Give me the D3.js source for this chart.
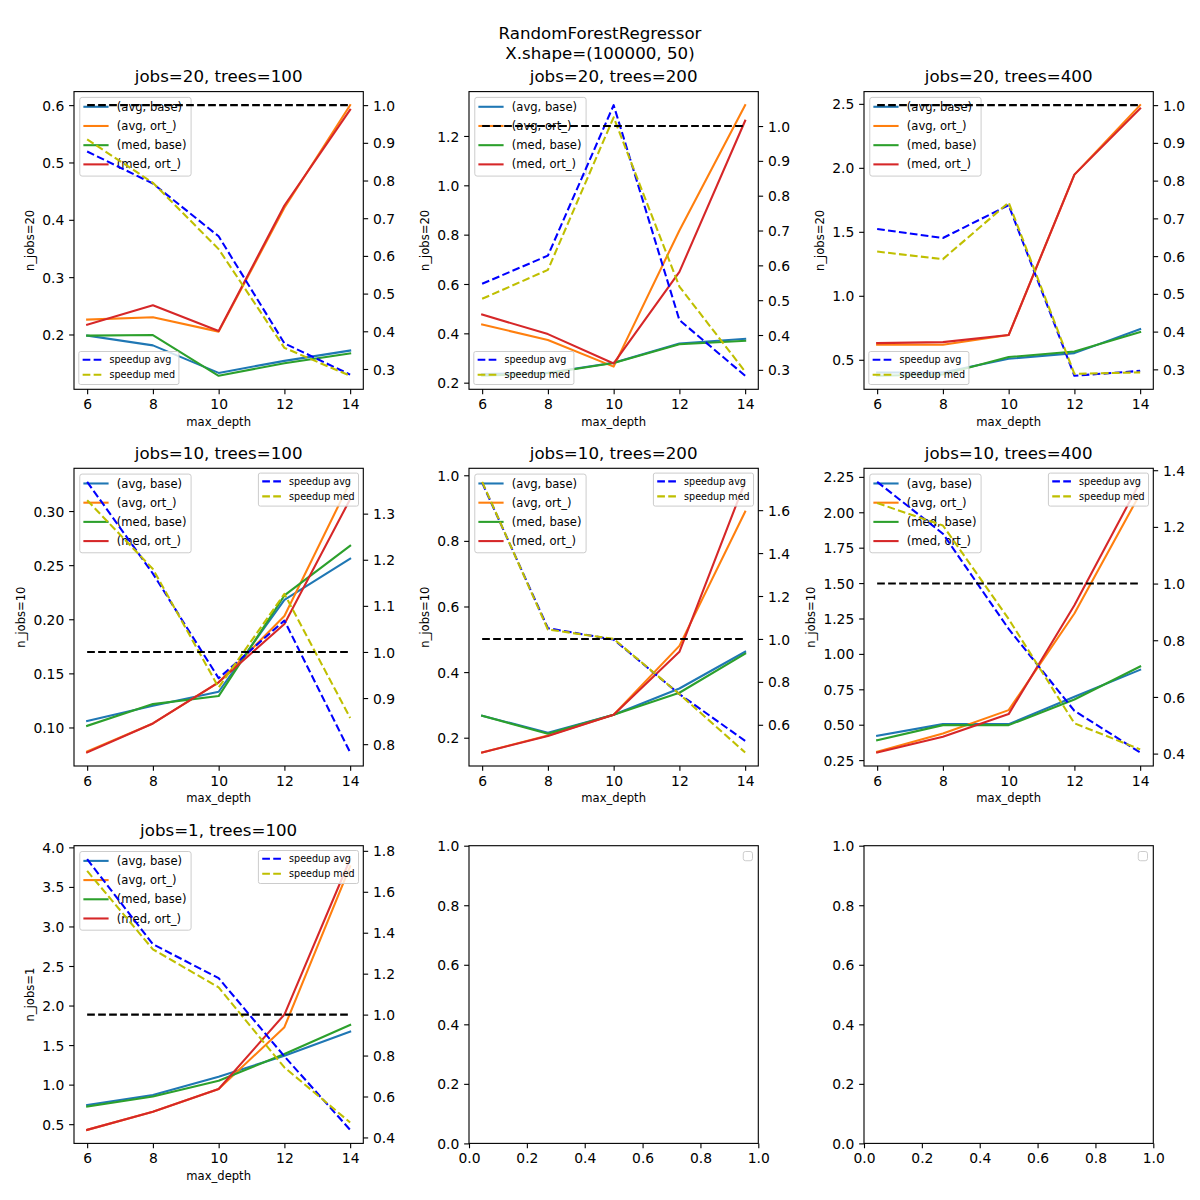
<!DOCTYPE html>
<html><head><meta charset="utf-8">
<script src="https://cdn.jsdelivr.net/npm/d3@7"></script>
<style>
body{margin:0;background:#fff}
svg{display:block}
text{font-family:"DejaVu Sans",sans-serif;fill:#000}
</style>
</head><body>
<svg id="chart" width="1200" height="1200"></svg>
<script>
// ---------------- data ----------------
const depths = [6, 8, 10, 12, 14];
const xTickLabels = ["6", "8", "10", "12", "14"];
const xAxisLabel = "max_depth";
const suptitleLines = ["RandomForestRegressor", "X.shape=(100000, 50)"];
const seriesNames = ["(avg, base)", "(avg, ort_)", "(med, base)", "(med, ort_)"];
const speedupNames = ["speedup avg", "speedup med"];
const speedupReference = 1.0;
const emptyTickLabels = ["0.0", "0.2", "0.4", "0.6", "0.8", "1.0"];

const panelTitles = ["jobs=20, trees=100", "jobs=20, trees=200", "jobs=20, trees=400",
                     "jobs=10, trees=100", "jobs=10, trees=200", "jobs=10, trees=400",
                     "jobs=1, trees=100"];
const panelYLabels = ["n_jobs=20", "n_jobs=20", "n_jobs=20",
                      "n_jobs=10", "n_jobs=10", "n_jobs=10", "n_jobs=1"];

// timings: rows = (avg, base), (avg, ort_), (med, base), (med, ort_)
const timesJ20T100 = [
  [0.198, 0.181, 0.133, 0.154, 0.172],
  [0.226, 0.230, 0.205, 0.421, 0.600],
  [0.198, 0.199, 0.128, 0.150, 0.167],
  [0.217, 0.251, 0.206, 0.425, 0.592]];
const timesJ20T200 = [
  [0.235, 0.240, 0.281, 0.359, 0.378],
  [0.436, 0.373, 0.265, 0.817, 1.325],
  [0.228, 0.238, 0.280, 0.356, 0.370],
  [0.476, 0.397, 0.278, 0.649, 1.262]];
const timesJ20T400 = [
  [0.400, 0.400, 0.508, 0.552, 0.740],
  [0.617, 0.617, 0.693, 1.947, 2.490],
  [0.375, 0.385, 0.521, 0.565, 0.716],
  [0.630, 0.638, 0.693, 1.947, 2.463]];
const timesJ10T100 = [
  [0.106, 0.120, 0.133, 0.218, 0.256],
  [0.0778, 0.1037, 0.1417, 0.203, 0.327],
  [0.1015, 0.1216, 0.129, 0.222, 0.268],
  [0.0769, 0.1037, 0.1417, 0.1957, 0.311]];
const timesJ10T200 = [
  [0.267, 0.215, 0.270, 0.350, 0.462],
  [0.155, 0.207, 0.270, 0.480, 0.889],
  [0.267, 0.212, 0.270, 0.337, 0.456],
  [0.155, 0.205, 0.270, 0.462, 0.980]];
const timesJ10T400 = [
  [0.422, 0.504, 0.504, 0.697, 0.888],
  [0.309, 0.438, 0.603, 1.285, 2.132],
  [0.391, 0.497, 0.497, 0.678, 0.911],
  [0.304, 0.415, 0.575, 1.344, 2.215]];
const timesJ1T100 = [
  [0.741, 0.868, 1.100, 1.366, 1.671],
  [0.428, 0.656, 0.944, 1.726, 3.760],
  [0.724, 0.851, 1.049, 1.388, 1.755],
  [0.428, 0.656, 0.944, 1.886, 3.850]];

// speedups: rows = speedup avg, speedup med
const speedJ20T100 = [[0.877, 0.792, 0.652, 0.368, 0.285], [0.909, 0.794, 0.618, 0.356, 0.282]];
const speedJ20T200 = [[0.547, 0.628, 1.060, 0.443, 0.283], [0.504, 0.587, 1.025, 0.539, 0.295]];
const speedJ20T400 = [[0.672, 0.648, 0.735, 0.283, 0.296], [0.612, 0.592, 0.742, 0.288, 0.292]];
const speedJ10T100 = [[1.369, 1.170, 0.943, 1.068, 0.782], [1.329, 1.180, 0.923, 1.126, 0.857]];
const speedJ10T200 = [[1.728, 1.050, 0.997, 0.743, 0.525], [1.732, 1.044, 1.000, 0.743, 0.471]];
const speedJ10T400 = [[1.359, 1.176, 0.840, 0.551, 0.404], [1.284, 1.205, 0.875, 0.507, 0.415]];
const speedJ1T100  = [[1.759, 1.344, 1.178, 0.796, 0.437], [1.702, 1.319, 1.133, 0.742, 0.473]];

// tick labels
const leftTicksJ20T100 = ["0.2", "0.3", "0.4", "0.5", "0.6"];
const leftTicksJ20T200 = ["0.2", "0.4", "0.6", "0.8", "1.0", "1.2"];
const leftTicksJ20T400 = ["0.5", "1.0", "1.5", "2.0", "2.5"];
const leftTicksJ10T100 = ["0.10", "0.15", "0.20", "0.25", "0.30"];
const leftTicksJ10T200 = ["0.2", "0.4", "0.6", "0.8", "1.0"];
const leftTicksJ10T400 = ["0.25", "0.50", "0.75", "1.00", "1.25", "1.50", "1.75", "2.00", "2.25"];
const leftTicksJ1T100  = ["0.5", "1.0", "1.5", "2.0", "2.5", "3.0", "3.5", "4.0"];
const rightTicksJ20 = ["0.3", "0.4", "0.5", "0.6", "0.7", "0.8", "0.9", "1.0"];
const rightTicksJ10T100 = ["0.8", "0.9", "1.0", "1.1", "1.2", "1.3"];
const rightTicksJ10T200 = ["0.6", "0.8", "1.0", "1.2", "1.4", "1.6"];
const rightTicksJ10T400 = ["0.4", "0.6", "0.8", "1.0", "1.2", "1.4"];
const rightTicksJ1T100  = ["0.4", "0.6", "0.8", "1.0", "1.2", "1.4", "1.6", "1.8"];

const panelTimes = [timesJ20T100, timesJ20T200, timesJ20T400, timesJ10T100, timesJ10T200, timesJ10T400, timesJ1T100];
const panelSpeed = [speedJ20T100, speedJ20T200, speedJ20T400, speedJ10T100, speedJ10T200, speedJ10T400, speedJ1T100];
const panelLeftTicks = [leftTicksJ20T100, leftTicksJ20T200, leftTicksJ20T400, leftTicksJ10T100, leftTicksJ10T200, leftTicksJ10T400, leftTicksJ1T100];
const panelRightTicks = [rightTicksJ20, rightTicksJ20, rightTicksJ20, rightTicksJ10T100, rightTicksJ10T200, rightTicksJ10T400, rightTicksJ1T100];

// ---------------- style / layout ----------------
const seriesColors = ["#1f77b4", "#ff7f0e", "#2ca02c", "#d62728"];
const speedColors = ["#0000ff", "#bfbf00"];
const colLefts = [74, 469, 864];
const rowTops = [91.6, 468.3, 845.7];
const W = 289.3, H = 297.7;
const FS_TICK = 13.89, FS_TITLE = 16.67, FS_LABEL = 11.57, FS_LEG = 11.57, FS_SLEG = 9.6;
const LW = 2.08, SPINE_W = 1.11, TICK_LEN = 4.86, TICK_PAD = 4.86;
const DASH = "7.7,3.3";

const svg = d3.select("#chart");

// suptitle
svg.append("text").attr("x", 600).attr("y", 39).attr("text-anchor", "middle")
  .style("font-size", FS_TITLE + "px").text(suptitleLines[0]);
svg.append("text").attr("x", 600).attr("y", 59).attr("text-anchor", "middle")
  .style("font-size", FS_TITLE + "px").text(suptitleLines[1]);

function padExtent(vals) {
  const [a, b] = d3.extent(vals);
  const r = b - a;
  return [a - 0.05 * r, b + 0.05 * r];
}

function styleAxis(sel) {
  sel.select(".domain").remove();
  sel.selectAll(".tick line").attr("stroke", "#000").attr("stroke-width", SPINE_W);
  sel.selectAll(".tick text").style("font-size", FS_TICK + "px").attr("fill", "#000")
    .style("font-family", '"DejaVu Sans",sans-serif');
}

function drawAxes(g, x, y, xLabels, yLabels) {
  const xa = g.append("g").attr("transform", `translate(0,${H})`)
    .call(d3.axisBottom(x).tickValues(xLabels.map(Number)).tickFormat((d, i) => xLabels[i])
      .tickSizeInner(TICK_LEN).tickSizeOuter(0).tickPadding(TICK_PAD));
  styleAxis(xa);
  xa.selectAll(".tick text").attr("dy", "0.71em");
  const ya = g.append("g")
    .call(d3.axisLeft(y).tickValues(yLabels.map(Number)).tickFormat((d, i) => yLabels[i])
      .tickSizeInner(TICK_LEN).tickSizeOuter(0).tickPadding(TICK_PAD));
  styleAxis(ya);
  ya.selectAll(".tick text").attr("dy", "0.365em");
  return ya;
}

function drawFrame(g) {
  g.append("rect").attr("x", 0).attr("y", 0).attr("width", W).attr("height", H)
    .attr("fill", "none").attr("stroke", "#000").attr("stroke-width", SPINE_W);
}

function drawLegend(g, items, opt) {
  const fs = opt.fs;
  const bp = 0.4 * fs, hl = 2 * fs, htp = 0.8 * fs, axPad = 0.5 * fs;
  const lg = g.append("g");
  const rect = lg.append("rect").attr("rx", 0.2 * fs).attr("ry", 0.2 * fs)
    .attr("fill", "#fff").attr("fill-opacity", 0.8)
    .attr("stroke", "#cccccc").attr("stroke-width", 1);
  let maxW = 0;
  items.forEach((it, i) => {
    const cy = opt.first + i * opt.pitch;
    lg.append("line").attr("x1", bp).attr("x2", bp + hl).attr("y1", cy).attr("y2", cy)
      .attr("stroke", it.color).attr("stroke-width", LW)
      .attr("stroke-dasharray", it.dash ? DASH : null)
      .attr("stroke-linecap", it.dash ? "butt" : "square");
    const t = lg.append("text").attr("x", bp + hl + htp).attr("y", cy + 0.35 * fs)
      .style("font-size", fs + "px").text(it.name);
    maxW = Math.max(maxW, t.node().getComputedTextLength());
  });
  let w, h;
  if (items.length === 0) { w = 2 * bp; h = 2 * bp; }
  else { w = bp + hl + htp + maxW + bp; h = opt.first + (items.length - 1) * opt.pitch + opt.bottom; }
  rect.attr("width", w).attr("height", h);
  let lx = axPad, ly = axPad;
  if (opt.loc.includes("right")) lx = W - axPad - w;
  if (opt.loc.includes("lower")) ly = H - axPad - h;
  lg.attr("transform", `translate(${lx},${ly})`);
}

function drawPanel(idx) {
  const row = Math.floor(idx / 3), col = idx % 3;
  const g = svg.append("g").attr("transform", `translate(${colLefts[col]},${rowTops[row]})`);
  const times = panelTimes[idx], speed = panelSpeed[idx];
  const x = d3.scaleLinear().domain(padExtent(depths)).range([0, W]);
  const yL = d3.scaleLinear().domain(padExtent(times.flat())).range([H, 0]);
  const yR = d3.scaleLinear().domain(padExtent(speed.flat().concat([speedupReference]))).range([H, 0]);

  const ya = drawAxes(g, x, yL, xTickLabels, panelLeftTicks[idx]);
  // right axis
  const rTicks = panelRightTicks[idx];
  const ra = g.append("g").attr("transform", `translate(${W},0)`)
    .call(d3.axisRight(yR).tickValues(rTicks.map(Number)).tickFormat((d, i) => rTicks[i])
      .tickSizeInner(TICK_LEN).tickSizeOuter(0).tickPadding(TICK_PAD));
  styleAxis(ra);
  ra.selectAll(".tick text").attr("dy", "0.365em");

  // labels
  g.append("text").attr("x", W / 2).attr("y", -9.5).attr("text-anchor", "middle")
    .style("font-size", FS_TITLE + "px").text(panelTitles[idx]);
  g.append("text").attr("x", W / 2).attr("y", H + 36.5).attr("text-anchor", "middle")
    .style("font-size", FS_LABEL + "px").text(xAxisLabel);
  const bb = ya.node().getBBox();
  const lx = bb.x - 8.3;
  g.append("text").attr("transform", `translate(${lx},${H / 2}) rotate(-90)`)
    .attr("text-anchor", "middle").style("font-size", FS_LABEL + "px").text(panelYLabels[idx]);

  // left lines
  const lineL = d3.line().x((d, i) => x(depths[i])).y(d => yL(d));
  times.forEach((s, k) => {
    g.append("path").datum(s).attr("d", lineL).attr("fill", "none")
      .attr("stroke", seriesColors[k]).attr("stroke-width", LW)
      .attr("stroke-linejoin", "round").attr("stroke-linecap", "square");
  });
  drawFrame(g);
  drawLegend(g, seriesNames.map((n, k) => ({ name: n, color: seriesColors[k] })),
    { fs: FS_LEG, first: 9.4, pitch: 19.2, bottom: 11.7, loc: "upper left" });

  // right lines
  const lineR = d3.line().x((d, i) => x(depths[i])).y(d => yR(d));
  speed.forEach((s, k) => {
    g.append("path").datum(s).attr("d", lineR).attr("fill", "none")
      .attr("stroke", speedColors[k]).attr("stroke-width", LW)
      .attr("stroke-dasharray", DASH).attr("stroke-linejoin", "round");
  });
  g.append("path").datum(depths.map(() => speedupReference)).attr("d", lineR).attr("fill", "none")
    .attr("stroke", "#000").attr("stroke-width", LW).attr("stroke-dasharray", DASH);
  drawLegend(g, speedupNames.map((n, k) => ({ name: n, color: speedColors[k], dash: true })),
    { fs: FS_SLEG, first: 8.3, pitch: 15, bottom: 9.7, loc: row === 0 ? "lower left" : "upper right" });
}

function drawEmpty(row, col) {
  const g = svg.append("g").attr("transform", `translate(${colLefts[col]},${rowTops[row]})`);
  const x = d3.scaleLinear().domain([0, 1]).range([0, W]);
  const y = d3.scaleLinear().domain([0, 1]).range([H, 0]);
  drawAxes(g, x, y, emptyTickLabels, emptyTickLabels);
  drawFrame(g);
  drawLegend(g, [], { fs: FS_LEG, first: 0, pitch: 0, bottom: 0, loc: "upper right" });
}

for (let i = 0; i < panelTitles.length; i++) drawPanel(i);
drawEmpty(2, 1);
drawEmpty(2, 2);
</script>
</body></html>
